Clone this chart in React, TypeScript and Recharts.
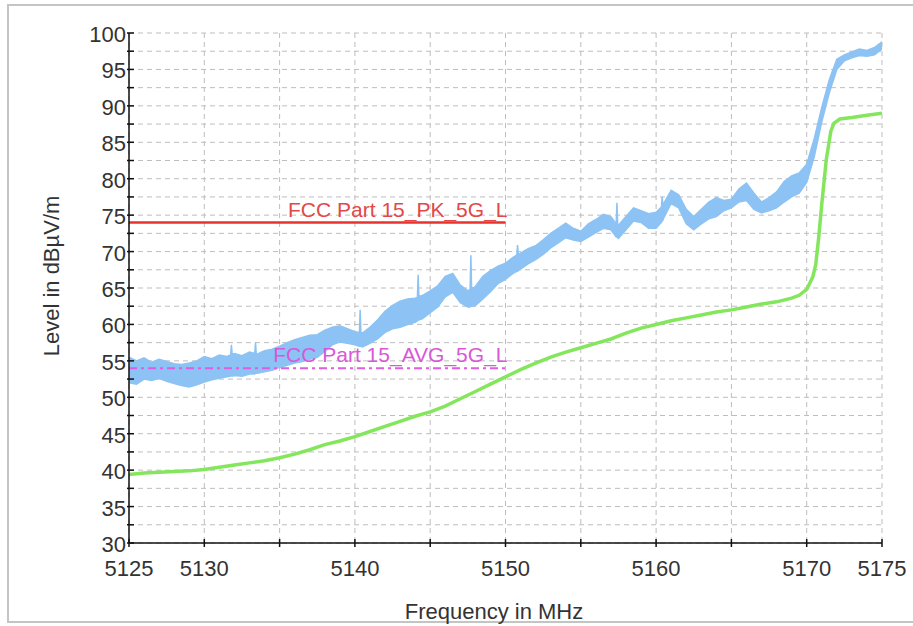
import React from 'react'
import { ComposedChart, Area, Line, XAxis, YAxis, CartesianGrid } from 'recharts'

// ── Datos ─────────────────────────────────────────────────
// Traza pico (banda de ruido): [frecuencia MHz, mínimo, máximo] en dBµV/m
const PEAK_BAND: [number, number, number][] = [
  [5125.0, 52.0, 55.5], [5125.5, 51.8, 55.0], [5126.0, 52.5, 55.4], [5126.5, 52.3, 54.8],
  [5127.0, 52.6, 55.2], [5127.5, 52.2, 54.9], [5128.0, 51.9, 54.6], [5128.5, 51.6, 54.5],
  [5129.0, 51.4, 54.7], [5129.5, 51.7, 55.0], [5130.0, 52.1, 55.6], [5130.5, 52.4, 55.3],
  [5131.0, 52.6, 55.8], [5131.5, 52.8, 55.6], [5131.75, 52.9, 55.8], [5131.8, 53.0, 57.2],
  [5131.85, 52.9, 55.9], [5132.0, 53.0, 56.0], [5132.5, 52.9, 55.7], [5133.0, 53.2, 56.2],
  [5133.35, 53.2, 56.0], [5133.4, 53.3, 57.5], [5133.45, 53.3, 56.0], [5133.5, 53.3, 55.9],
  [5134.0, 53.5, 56.4], [5134.5, 53.7, 56.6], [5135.0, 54.1, 57.0], [5135.5, 54.4, 57.5],
  [5136.0, 54.7, 57.9], [5136.5, 54.9, 58.2], [5137.0, 55.2, 58.5], [5137.5, 55.5, 58.6],
  [5138.0, 56.3, 59.2], [5138.5, 57.2, 59.6], [5139.0, 57.6, 59.8], [5139.5, 57.4, 59.4],
  [5140.0, 57.2, 59.0], [5140.3, 57.0, 58.9], [5140.35, 57.0, 62.0], [5140.4, 57.0, 58.9],
  [5140.5, 56.9, 58.8], [5141.0, 57.4, 59.6], [5141.5, 58.0, 60.6], [5142.0, 58.9, 61.8],
  [5142.5, 59.4, 62.6], [5143.0, 59.6, 63.2], [5143.5, 60.0, 63.5], [5144.0, 60.3, 63.6],
  [5144.15, 60.5, 63.7], [5144.2, 60.6, 66.8], [5144.25, 60.6, 63.8], [5144.5, 60.8, 64.0],
  [5145.0, 61.6, 64.6], [5145.5, 62.4, 65.3], [5146.0, 63.8, 66.6], [5146.5, 64.4, 67.0],
  [5147.0, 63.0, 65.4], [5147.5, 62.4, 64.6], [5147.65, 62.4, 64.8], [5147.7, 62.5, 69.5],
  [5147.75, 62.5, 64.9], [5148.0, 62.6, 65.2], [5148.5, 63.5, 66.6], [5149.0, 64.5, 67.4],
  [5149.5, 65.6, 68.0], [5150.0, 66.2, 68.4], [5150.5, 67.0, 69.2], [5150.75, 67.3, 69.5],
  [5150.8, 67.3, 70.9], [5150.85, 67.4, 69.6], [5151.0, 67.6, 69.8], [5151.5, 68.3, 70.4],
  [5152.0, 68.9, 70.8], [5152.5, 69.6, 71.6], [5153.0, 70.5, 72.5], [5153.5, 71.2, 73.2],
  [5154.0, 71.9, 73.9], [5154.5, 71.6, 73.2], [5155.0, 71.4, 72.8], [5155.5, 72.0, 73.8],
  [5156.0, 72.6, 74.4], [5156.5, 73.2, 75.1], [5157.0, 73.0, 74.8], [5157.35, 72.0, 73.8],
  [5157.4, 72.0, 76.7], [5157.45, 71.9, 73.7], [5157.5, 71.8, 73.6], [5158.0, 73.0, 74.8],
  [5158.5, 74.2, 76.0], [5159.0, 74.0, 75.6], [5159.5, 73.2, 75.2], [5160.0, 73.2, 75.4],
  [5160.35, 74.0, 76.1], [5160.4, 74.2, 77.5], [5160.45, 74.3, 76.3], [5160.5, 74.6, 76.6],
  [5161.0, 76.6, 78.4], [5161.5, 76.0, 77.8], [5162.0, 73.8, 75.8], [5162.5, 73.0, 74.8],
  [5163.0, 73.8, 75.8], [5163.5, 74.5, 76.8], [5164.0, 74.8, 77.4], [5164.5, 75.6, 77.0],
  [5165.0, 76.0, 77.2], [5165.5, 76.8, 78.6], [5166.0, 77.0, 79.4], [5166.5, 75.8, 78.0],
  [5167.0, 75.3, 76.8], [5167.5, 75.6, 77.4], [5168.0, 76.0, 78.2], [5168.5, 76.8, 79.6],
  [5169.0, 77.5, 80.4], [5169.5, 78.0, 80.8], [5170.0, 79.5, 82.0], [5170.5, 83.0, 85.5],
  [5171.0, 87.8, 89.8], [5171.5, 91.8, 93.6], [5172.0, 95.0, 96.4], [5172.5, 96.2, 97.0],
  [5173.0, 96.6, 97.4], [5173.5, 96.9, 97.8], [5174.0, 96.8, 97.6], [5174.5, 97.0, 98.0],
  [5175.0, 97.8, 98.8],
]

// Traza promedio (verde)
const AVG_FREQ = [
  5125, 5126, 5127, 5128, 5129, 5130, 5131, 5132, 5133, 5134, 5135, 5136, 5137, 5138, 5139,
  5140, 5141, 5142, 5143, 5144, 5145, 5146, 5147, 5148, 5149, 5150, 5151, 5152, 5153, 5154,
  5155, 5156, 5157, 5158, 5159, 5160, 5161, 5162, 5163, 5164, 5165, 5166, 5167, 5168, 5169,
  5169.5, 5170, 5170.4, 5170.6, 5170.8, 5171, 5171.3, 5171.6, 5171.8, 5172.2, 5173, 5174, 5175,
]
const AVG_LEVEL = [
  39.4, 39.6, 39.7, 39.8, 39.9, 40.1, 40.4, 40.7, 41.0, 41.3, 41.7, 42.2, 42.8, 43.5, 44.0,
  44.6, 45.3, 46.0, 46.7, 47.4, 48.0, 48.8, 49.8, 50.8, 51.8, 52.8, 53.8, 54.7, 55.5, 56.2,
  56.8, 57.4, 58.0, 58.8, 59.5, 60.0, 60.5, 60.9, 61.3, 61.7, 62.0, 62.4, 62.8, 63.1, 63.6,
  64.0, 64.8, 66.5, 68.2, 72.0, 76.5, 82.6, 86.5, 87.6, 88.2, 88.4, 88.7, 89.0,
]

// Líneas límite
const LIMIT_FREQ = [5125, 5150]
const PK_LIMIT = 74
const AVG_LIMIT = 54
const PK_NAME = 'FCC Part 15_PK_5G_L'
const AVG_NAME = 'FCC Part 15_AVG_5G_L'

// Ejes
const X_TICKS = [5125, 5130, 5135, 5140, 5145, 5150, 5155, 5160, 5165, 5170, 5175]
const X_LABELS = [5125, 5130, 5140, 5150, 5160, 5170, 5175]
const Y_TICKS = [30, 32.5, 35, 37.5, 40, 42.5, 45, 47.5, 50, 52.5, 55, 57.5, 60, 62.5, 65, 67.5,
  70, 72.5, 75, 77.5, 80, 82.5, 85, 87.5, 90, 92.5, 95, 97.5, 100]

const peakData = PEAK_BAND.map(([f, lo, hi]) => ({ f, r: [lo, hi] }))
const avgData = AVG_FREQ.map((f, i) => ({ f, v: AVG_LEVEL[i] }))
const pkLimitData = LIMIT_FREQ.map((f) => ({ f, v: PK_LIMIT }))
const avgLimitData = LIMIT_FREQ.map((f) => ({ f, v: AVG_LIMIT }))

const FONT = '"Liberation Sans", Arial, sans-serif'
const TEXT = '#333333'

const YTick = ({ x, y, payload }: any) => {
  const v = payload.value
  return (
    <g>
      <line x1={x - 2} x2={x + 5} y1={y} y2={y} stroke="#111" strokeWidth={1.5} />
      {v % 5 === 0 && (
        <text x={x - 3} y={y} dy={9} textAnchor="end" fontSize={22} fontFamily={FONT} fill={TEXT}>{v}</text>
      )}
    </g>
  )
}

const XTick = ({ x, y, payload }: any) => {
  const v = payload.value
  return (
    <g>
      <line x1={x} x2={x} y1={y - 4} y2={y + 4} stroke="#111" strokeWidth={1.5} />
      {X_LABELS.includes(v) && (
        <text x={x} y={y} dy={33} textAnchor="middle" fontSize={22} fontFamily={FONT} fill={TEXT}>{v}</text>
      )}
    </g>
  )
}

const limitLabel = (name: string, color: string, dy: number) => (props: any) => {
  if (props.index !== LIMIT_FREQ.length - 1) return null
  return (
    <text x={props.x + 2} y={props.y + dy} textAnchor="end" fontSize={21} fontFamily={FONT} fill={color}>{name}</text>
  )
}

export default function App() {
  return (
    <div style={{ position: 'absolute', left: 0, top: 0, width: 913, height: 626, background: '#fff', overflow: 'hidden' }}>
      <ComposedChart width={913} height={626} margin={{ top: 33, right: 31, left: 69, bottom: 53 }}>
        <CartesianGrid stroke="#bdbdbd" strokeDasharray="5 4" />
        <XAxis
          type="number" dataKey="f" domain={[5125, 5175]} ticks={X_TICKS} allowDataOverflow
          height={30} tickSize={0} tickMargin={0} tick={<XTick />} tickLine={false}
          axisLine={{ stroke: '#111', strokeWidth: 1.5 }} interval={0}
        />
        <YAxis
          type="number" domain={[30, 100]} ticks={Y_TICKS} allowDataOverflow width={60}
          tickSize={0} tickMargin={0} tick={<YTick />} tickLine={false}
          axisLine={{ stroke: '#111', strokeWidth: 1.5 }} interval={0}
        />
        <Area
          data={peakData} dataKey="r" type="linear" stroke="#8cc3f4" strokeWidth={1.5}
          fill="#8cc3f4" fillOpacity={1} dot={false} activeDot={false} isAnimationActive={false}
        />
        <Line
          data={avgData} dataKey="v" type="linear" stroke="#84e65c" strokeWidth={3.5}
          dot={false} activeDot={false} isAnimationActive={false}
        />
        <Line
          data={pkLimitData} dataKey="v" type="linear" stroke="#e8322c" strokeWidth={2.5}
          dot={false} activeDot={false} isAnimationActive={false}
          label={limitLabel(PK_NAME, '#e24848', -5)}
        />
        <Line
          data={avgLimitData} dataKey="v" type="linear" stroke="#e05ce0" strokeWidth={2}
          strokeDasharray="8 4 3 4" dot={false} activeDot={false} isAnimationActive={false}
          label={limitLabel(AVG_NAME, '#d957d9', -6)}
        />
      </ComposedChart>
      <svg width={913} height={626} style={{ position: 'absolute', left: 0, top: 0, pointerEvents: 'none' }}>
        <rect x={8} y={5} width={920} height={617} fill="none" stroke="#c4c4c4" strokeWidth={2} />
        <text x={0} y={0} transform="translate(59,276) rotate(-90)" textAnchor="middle" fontSize={22} fontFamily={FONT} fill={TEXT}>
          Level in dBµV/m
        </text>
        <text x={494} y={619} textAnchor="middle" fontSize={22} fontFamily={FONT} fill={TEXT}>Frequency in MHz</text>
      </svg>
    </div>
  )
}
